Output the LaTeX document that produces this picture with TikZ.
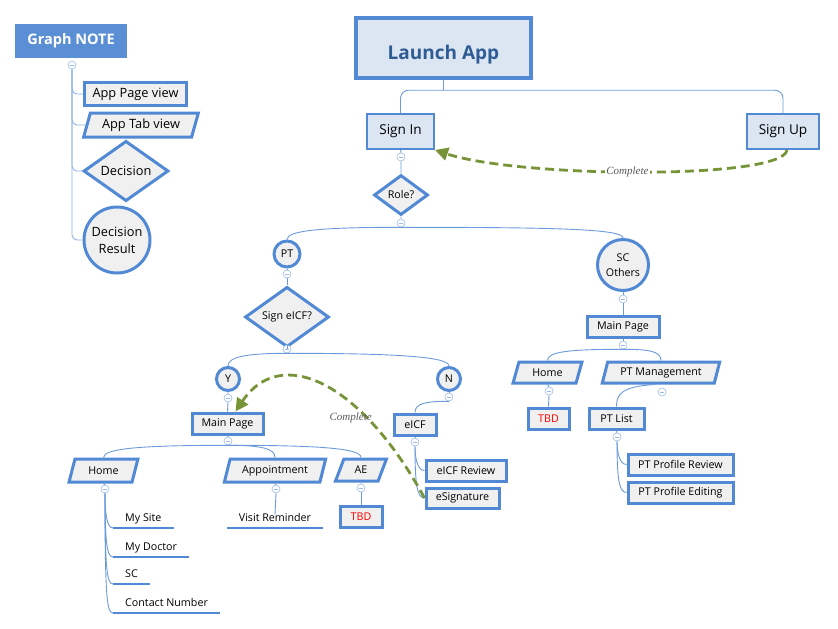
\documentclass[tikz,border=0pt]{standalone}
\usepackage{fontspec}
\setmainfont{Open Sans}
\newfontfamily\labfont{Liberation Serif}
\usetikzlibrary{shapes.geometric,arrows.meta,calc}
\definecolor{bord}{HTML}{5289D4}
\definecolor{connc}{HTML}{6B9BDA}
\definecolor{legc}{HTML}{8FB2E4}
\definecolor{collc}{HTML}{9DBBE6}
\definecolor{lblue}{HTML}{DCE6F2}
\definecolor{lgray}{HTML}{F0F0F0}
\definecolor{notefill}{HTML}{5A8FD6}
\definecolor{darkb}{HTML}{2F5C94}
\definecolor{olive}{HTML}{779438}
\definecolor{labgray}{HTML}{595959}
\newcommand\fsz[2]{\fontsize{#1}{#2}\selectfont}
\newcommand\mmbranch[2]{\draw[conn] (#1) .. controls ($(#1)!0.7!(#1-|#2)$) and ($(#2)+(0,-9)$) .. (#2);}
\newcommand\mmtrunk[2]{\draw[conn] (#1) .. controls ($(#1|-#2)+(0,-14)$) and ($(#1|-#2)+(2,0)$) .. (#2);}
\tikzset{
 box/.style={draw=bord, line width=3pt, fill=lgray, inner sep=0pt, font=\fsz{10.7}{13}},
 sbox/.style={draw=bord, line width=2pt, fill=lblue, inner sep=0pt, font=\fsz{13.6}{16}},
 para/.style={trapezium, trapezium left angle=68, trapezium right angle=112, trapezium stretches=true, draw=bord, line width=3pt, fill=lgray, inner sep=0pt, font=\fsz{10.7}{13}},
 dia/.style={diamond, draw=bord, line width=3pt, fill=lgray, inner sep=0pt, font=\fsz{10.7}{13}},
 res/.style={circle, draw=bord, line width=3pt, fill=lgray, inner sep=0pt, font=\fsz{10.7}{14}, align=center},
 coll/.style={circle, draw=collc, fill=white, line width=0.6pt, minimum size=8pt, inner sep=0pt,
   path picture={\draw[collc, line width=0.6pt] ([xshift=-2pt]path picture bounding box.center) -- ([xshift=2pt]path picture bounding box.center);}},
 conn/.style={draw=connc, line width=0.9pt},
 legline/.style={draw=legc, line width=0.9pt, rounded corners=5pt},
 leaf/.style={inner xsep=12pt, inner ysep=2pt, font=\fsz{10.7}{13}},
 leafline/.style={draw=bord, line width=2.6pt},
 back/.style={draw=olive, line width=2.8pt, dash pattern=on 9pt off 5pt, -{Triangle[length=13pt,width=13pt]}},
 backlab/.style={font=\fsz{11}{13}\labfont\itshape, text=labgray, inner sep=1pt},
}
\begin{document}
\begin{tikzpicture}[x=1pt,y=-1pt]
\useasboundingbox (0,0) rectangle (838,629);
% ---------- legend ----------
\node[fill=notefill, minimum width=112pt, minimum height=34pt, inner sep=0pt, text=white, font=\fsz{14.5}{18}\bfseries] (note) at (71,41) {Graph NOTE};
\node[coll] (nc) at (72,65) {};
\node[box, font=\fsz{12.8}{16}, minimum width=102pt, minimum height=23pt] (lpage) at (135.5,94) {App Page view};
\node[para, font=\fsz{12.8}{16}, minimum width=115pt, minimum height=24pt] (ltab) at (141,125) {App Tab view};
\node[dia, font=\fsz{12.8}{16}, minimum width=85pt, minimum height=54pt] (ldec) at (126,171) {Decision};
\node[res, font=\fsz{12.8}{17}, minimum size=66pt] (lres) at (117,240) {Decision\\Result};
\draw[legline] (nc.south) |- (lpage.west);
\draw[legline] (nc.south) |- (ltab.west);
\draw[legline] (nc.south) |- (ldec.west);
\draw[legline] (nc.south) |- (lres.west);
% ---------- top ----------
\node[sbox, line width=4.5pt, minimum width=175pt, minimum height=60pt, font=\fsz{19}{24}\bfseries, text=darkb] (la) at (443.5,48) {\raisebox{-4pt}[\height][0pt]{Launch App}};
\node[sbox, minimum width=67pt, minimum height=35pt] (si) at (400.5,131.5) {Sign In};
\node[sbox, minimum width=72pt, minimum height=35pt] (su) at (783,131.5) {Sign Up};
\coordinate (laj) at ($(la.south)+(0,10)$);
\draw[conn] (la.south) -- (laj);
\draw[conn, rounded corners=8pt] (si.north) |- (laj) -| (su.north);
\node[coll] (c1) at (401,157) {};
\node[dia, minimum width=54pt, minimum height=40pt] (role) at (401,195) {Role?};
\node[coll] (c2) at (401,223) {};
\draw[conn] (si.south) -- (c1.north) (c1.south) -- (role.north) (role.south) -- (c2.north);
% ---------- PT branch ----------
\node[res, minimum size=26pt] (pt) at (287,254) {PT};
\node[coll] (c3) at (287,274) {};
\node[dia, minimum width=84pt, minimum height=49pt] (eq) at (287,317) {Sign eICF?};
\node[coll] (c4) at (287,349) {};
\node[res, minimum size=23pt] (yy) at (228,379) {Y};
\node[res, minimum size=23pt] (nn) at (449,379) {N};
\node[coll] (c5) at (228,398) {};
\node[coll] (c6) at (449,397) {};
\node[box, minimum width=71pt, minimum height=21pt] (mp) at (227.5,423.5) {Main Page};
\node[box, minimum width=42pt, minimum height=21pt] (eicf) at (415,424.5) {eICF};
\node[coll] (c7) at (228,441) {};
\node[coll] (c8) at (415,442) {};
\node[para, minimum width=69pt, minimum height=23pt] (home) at (103.5,470.5) {Home};
\node[para, minimum width=102pt, minimum height=23pt] (appt) at (275,470.5) {Appointment};
\node[para, minimum width=51pt, minimum height=22pt] (ae) at (361,470) {AE};
\node[coll] (c9) at (105,489) {};
\node[coll] (c10) at (276,489) {};
\node[coll] (c11) at (361,488) {};
\node[leaf, anchor=base west] (ms) at (113,521) {My Site};
\node[leaf, anchor=base west] (md) at (113,550) {My Doctor};
\node[leaf, anchor=base west] (scl) at (113,577) {SC};
\node[leaf, anchor=base west] (cn) at (113,606) {Contact Number};
\node[leaf, anchor=base] (vr) at (275,521) {Visit Reminder};
\foreach \n in {ms,md,scl,cn,vr}{
  \coordinate (\n-ul) at ([yshift=-7pt]\n.base west);
  \draw[leafline] (\n-ul) -- ([yshift=-7pt]\n.base east);
}
\node[box, minimum width=42pt, minimum height=21pt, text=red] (tbd1) at (361,516.5) {TBD};
\node[box, minimum width=80pt, minimum height=21pt] (er) at (466,470.5) {eICF Review};
\node[box, minimum width=73pt, minimum height=20pt] (es) at (462.5,498) {eSignature};
\draw[conn] (pt.south) -- (c3.north) (c3.south) -- (eq.north) (eq.south) -- (c4.north);
\mmbranch{c2.south}{pt.north}
\mmbranch{c4.south}{yy.north}
\mmbranch{c4.south}{nn.north}
\draw[conn] (yy.south) -- (c5.north) (c5.south) -- (mp.north);
\draw[conn] (nn.south) -- (c6.north);
\mmbranch{c6.south}{eicf.north}
\draw[conn] (mp.south) -- (c7.north);
\mmbranch{c7.south}{home.north}
\mmbranch{c7.south}{appt.north}
\mmbranch{c7.south}{ae.north}
\draw[conn] (home.south) -- (c9.north) (appt.south) -- (c10.north) (ae.south) -- (c11.north);
\draw[conn] (c10.south) -- ([yshift=-4pt]vr.north);
\draw[conn] (c11.south) -- (tbd1.north);
\mmtrunk{c9.south}{ms-ul}
\mmtrunk{c9.south}{md-ul}
\mmtrunk{c9.south}{scl-ul}
\mmtrunk{c9.south}{cn-ul}
\draw[conn] (eicf.south) -- (c8.north);
\mmtrunk{c8.south}{er.west}
\mmtrunk{c8.south}{es.west}
% ---------- SC branch ----------
\node[res, minimum size=51pt, font=\fsz{10.7}{15}] (sc) at (623,265) {SC\\Others};
\mmbranch{c2.south}{sc.north}
\node[coll] (c12) at (623,299) {};
\node[box, minimum width=72pt, minimum height=21pt] (mp2) at (623,326.5) {Main Page};
\node[coll] (c13) at (623,345) {};
\node[para, minimum width=69pt, minimum height=21pt] (home2) at (547.5,372.5) {Home};
\node[para, minimum width=118pt, minimum height=21pt] (ptm) at (661,372.5) {PT Management};
\node[coll] (c14) at (549,391) {};
\node[coll] (c15) at (662,392) {};
\node[box, minimum width=41pt, minimum height=21pt, text=red] (tbd2) at (548.5,418.5) {TBD};
\node[box, minimum width=55pt, minimum height=21pt] (ptl) at (616.5,418.5) {PT List};
\node[coll] (c16) at (617,437) {};
\node[box, minimum width=105pt, minimum height=21pt] (ppr) at (680.5,464.5) {PT Profile Review};
\node[box, minimum width=105pt, minimum height=21pt] (ppe) at (680.5,492.5) {PT Profile Editing};
\draw[conn] (sc.south) -- (c12.north) (c12.south) -- (mp2.north) (mp2.south) -- (c13.north);
\mmbranch{c13.south}{home2.north}
\mmbranch{c13.south}{ptm.north}
\draw[conn] (home2.south) -- (c14.north) (c14.south) -- (tbd2.north);
\draw[conn] ([xshift=-6pt]ptm.south) .. controls ($(ptm.south)+(-40,2)$) and ($(ptl.north)+(0,-12)$) .. (ptl.north);
\draw[conn] (ptl.south) -- (c16.north);
\mmtrunk{c16.south}{ppr.west}
\mmtrunk{c16.south}{ppe.west}
% ---------- feedback arrows ----------
\draw[back] ([xshift=4pt]su.south) .. controls (783,180) and (520,178) .. (si.south east)
  node[backlab, fill=white, pos=0.53] {Complete};
\draw[back] (es.west) .. controls (360,380) and (280,345) .. ([xshift=8pt]mp.north)
  node[backlab, pos=0.3, xshift=-13pt, yshift=-3pt] {Complete};
\end{tikzpicture}
\end{document}
